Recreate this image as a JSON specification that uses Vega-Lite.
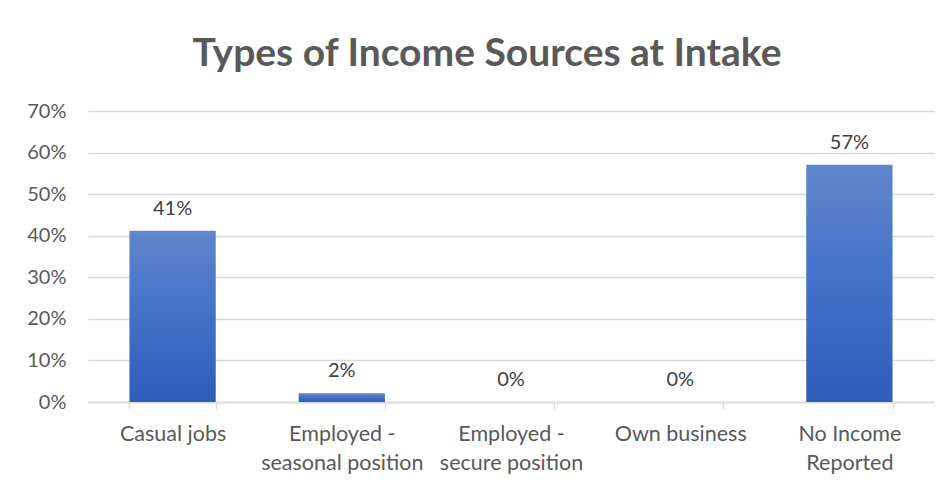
{
  "$schema": "https://vega.github.io/schema/vega-lite/v6.json",
  "autosize": "none",
  "width": 846,
  "height": 291,
  "padding": {"left": 88, "top": 111, "right": 17, "bottom": 87},
  "background": "white",
  "title": {
    "text": "Types of Income Sources at Intake",
    "font": "Lato",
    "fontSize": 39,
    "fontWeight": "bold",
    "color": "#595959",
    "anchor": "middle",
    "frame": "group",
    "dx": -24,
    "offset": 27
  },
  "data": {
    "values": [
      {"category": "Casual jobs", "value": 0.412},
      {"category": "Employed -|seasonal position", "value": 0.021},
      {"category": "Employed -|secure position", "value": 0},
      {"category": "Own business", "value": 0},
      {"category": "No Income|Reported", "value": 0.571}
    ]
  },
  "encoding": {
    "x": {
      "field": "category",
      "type": "nominal",
      "sort": null,
      "scale": {"paddingInner": 0.49, "paddingOuter": 0.245},
      "axis": {
        "title": null,
        "labelAngle": 0,
        "labelExpr": "split(datum.label, '|')",
        "labelFont": "Lato",
        "labelFontSize": 21.5,
        "labelColor": "#595959",
        "labelPadding": 14,
        "labelLineHeight": 29,
        "labelLimit": 250,
        "labelOverlap": false,
        "domainColor": "#d9d9d9",
        "domainWidth": 1.3,
        "tickColor": "#d9d9d9",
        "tickWidth": 1.3,
        "tickBand": "extent",
        "tickSize": 7,
        "grid": false
      }
    },
    "y": {
      "field": "value",
      "type": "quantitative",
      "scale": {"domain": [0, 0.7], "nice": false},
      "axis": {
        "title": null,
        "format": ".0%",
        "values": [0, 0.1, 0.2, 0.3, 0.4, 0.5, 0.6, 0.7],
        "labelOverlap": false,
        "labelFont": "Lato",
        "labelFontSize": 20,
        "labelColor": "#595959",
        "labelPadding": 22,
        "domain": false,
        "ticks": false,
        "gridColor": "#d9d9d9",
        "gridWidth": 1.3
      }
    }
  },
  "layer": [
    {
      "mark": {
        "type": "bar",
        "color": {
          "gradient": "linear",
          "x1": 0, "y1": 0, "x2": 0, "y2": 1,
          "stops": [
            {"offset": 0, "color": "#6086cb"},
            {"offset": 0.5, "color": "#4271c7"},
            {"offset": 1, "color": "#2d5dba"}
          ]
        }
      }
    },
    {
      "mark": {
        "type": "text",
        "baseline": "alphabetic",
        "dy": -16,
        "font": "Lato",
        "fontSize": 20,
        "color": "#404040"
      },
      "encoding": {
        "text": {"field": "value", "type": "quantitative", "format": ".0%"}
      }
    }
  ],
  "config": {
    "view": {"stroke": null}
  }
}
